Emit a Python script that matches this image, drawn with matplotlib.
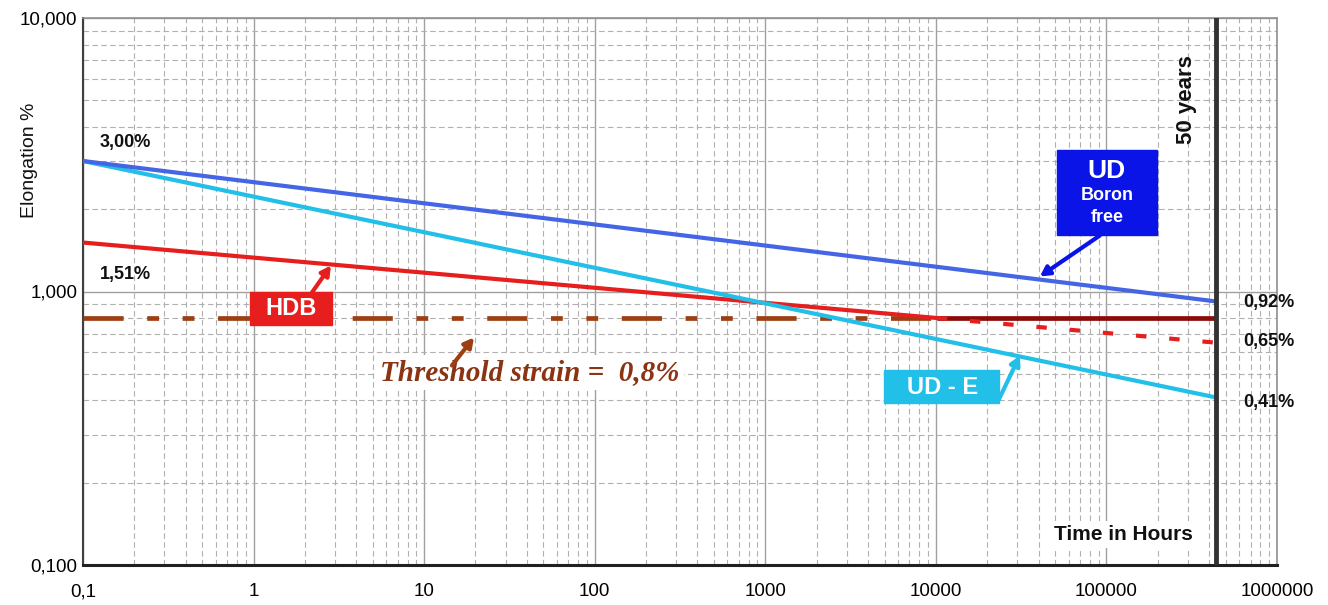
import numpy as np
import matplotlib
matplotlib.use("Agg")
import matplotlib.pyplot as plt
from matplotlib.ticker import FixedLocator, NullFormatter, LogLocator

plt.rcParams['font.family'] = ['Liberation Sans', 'DejaVu Sans']

# data (log-log straight lines)
t_range = [0.1, 438000]          # 0,1 h -> 50 years
ud_boron_free = [3.00, 0.92]
ud_e = [3.00, 0.41]
hdb = [1.51, 0.65]
threshold = 0.8
t_50_years = 438000

x_ticks = [0.1, 1, 10, 100, 1000, 10000, 100000, 1000000]
x_labels = ['0,1', '1', '10', '100', '1000', '10000', '100000', '1000000']
y_ticks = [0.1, 1, 10]
y_labels = ['0,100', '1,000', '10,000']

C_UDBF = '#4466e6'
C_UDBF_BOX = '#0a14e6'
C_UDE = '#22bfe8'
C_HDB = '#e61e1e'
C_THR = '#9c3f12'
C_THR_TXT = '#8a3414'
C_THR_END = '#8b0a0a'

fig = plt.figure(figsize=(13.28, 6.05), dpi=100)
ax = fig.add_axes([83 / 1328, 1 - 565 / 605, (1277 - 83) / 1328, (565 - 18) / 605])
ax.set_xscale('log')
ax.set_yscale('log')
ax.set_xlim(0.1, 1e6)
ax.set_ylim(0.1, 10)


def px(x, y):
    # reference pixel -> data coords (for placing annotations)
    return 10 ** ((x - 83) / 170.6 - 1), 10 ** ((292 - y) / 273.5)


# grid
ax.xaxis.set_minor_locator(LogLocator(base=10, subs=np.arange(2, 10)))
ax.yaxis.set_minor_locator(LogLocator(base=10, subs=np.arange(2, 10)))
ax.xaxis.set_minor_formatter(NullFormatter())
ax.yaxis.set_minor_formatter(NullFormatter())
ax.grid(True, which='major', color='#a0a0a0', lw=1.0, ls='-')
ax.grid(True, which='minor', color='#b0b0b0', lw=0.8, ls=(0, (5, 3)))
ax.set_axisbelow(True)

ax.xaxis.set_major_locator(FixedLocator(x_ticks))
ax.set_xticklabels(x_labels)
ax.yaxis.set_major_locator(FixedLocator(y_ticks))
ax.set_yticklabels(y_labels)
ax.tick_params(which='both', length=0, labelsize=13.5)
ax.tick_params(axis='x', pad=13)
ax.tick_params(axis='y', pad=4)

for s in ['top', 'right']:
    ax.spines[s].set_color('#909090')
    ax.spines[s].set_linewidth(1.2)
ax.spines['left'].set_color('#404040')
ax.spines['left'].set_linewidth(1.5)
ax.spines['bottom'].set_color('#202020')
ax.spines['bottom'].set_linewidth(2.2)

# crossing of HDB with threshold (straight in log-log)
lt = np.log10(t_range)
slope = (np.log10(hdb[1]) - np.log10(hdb[0])) / (lt[1] - lt[0])
t_cross = 10 ** (lt[0] + (np.log10(threshold) - np.log10(hdb[0])) / slope)

# threshold strain
ax.plot([t_range[0], t_cross], [threshold, threshold], color=C_THR, lw=3.4,
        dashes=(8.5, 5, 2.5, 5, 2.5, 5), zorder=3)
ax.plot([t_cross, t_range[1]], [threshold, threshold], color=C_THR_END, lw=3.4,
        solid_capstyle='butt', zorder=3)

# HDB: solid to threshold, then dashed
ax.plot([t_range[0], t_cross], [hdb[0], threshold], color=C_HDB, lw=3, zorder=4)
ax.plot([t_cross, t_range[1]], [threshold, hdb[1]], color=C_HDB, lw=3,
        dashes=(2.5, 5.5), zorder=4)

ax.plot(t_range, ud_e, color=C_UDE, lw=3, zorder=5)
ax.plot(t_range, ud_boron_free, color=C_UDBF, lw=3, zorder=5)

# 50 years line
ax.axvline(t_50_years, color='#333333', lw=3.5, zorder=6)

# value labels
lab = dict(fontsize=13, fontweight='bold', color='#111111', zorder=7)
ax.text(*px(100, 143), '3,00%', ha='left', va='center', **lab)
ax.text(*px(100, 275), '1,51%', ha='left', va='center', **lab)
ax.text(*px(1243, 303), '0,92%', ha='left', va='center', **lab)
ax.text(*px(1243, 342), '0,65%', ha='left', va='center', **lab)
ax.text(*px(1243, 403), '0,41%', ha='left', va='center', **lab)

head = '-|>,head_length=0.55,head_width=0.3'

# HDB box + arrow
x0, y0 = px(250, 325)
x1, y1 = px(332, 292)
ax.add_patch(plt.Rectangle((x0, y0), x1 - x0, y1 - y0, fc=C_HDB, ec=C_HDB, zorder=8))
ax.text(*px(291, 309), 'HDB', ha='center', va='center', fontsize=17, fontweight='bold',
        color='white', zorder=9)
ax.annotate('', xy=px(331, 266), xytext=px(312, 293),
            arrowprops=dict(arrowstyle=head, color=C_HDB, lw=3, shrinkA=0, shrinkB=0),
            zorder=8)

# UD - E box + arrow
x0, y0 = px(884, 403)
x1, y1 = px(999, 370)
ax.add_patch(plt.Rectangle((x0, y0), x1 - x0, y1 - y0, fc=C_UDE, ec=C_UDE, zorder=8))
ax.text(*px(943, 388), 'UD - E', ha='center', va='center', fontsize=17, fontweight='bold',
        color='white', zorder=9)
ax.annotate('', xy=px(1020, 356), xytext=px(999, 400),
            arrowprops=dict(arrowstyle=head, color=C_UDE, lw=3, shrinkA=0, shrinkB=0),
            zorder=8)

# UD Boron free box + arrow
x0, y0 = px(1057, 235)
x1, y1 = px(1157, 150)
ax.add_patch(plt.Rectangle((x0, y0), x1 - x0, y1 - y0, fc=C_UDBF_BOX, ec=C_UDBF_BOX, zorder=8))
ax.text(*px(1107, 171), 'UD', ha='center', va='center', fontsize=19, fontweight='bold',
        color='white', zorder=9)
ax.text(*px(1107, 196), 'Boron', ha='center', va='center', fontsize=13, fontweight='bold',
        color='white', zorder=9)
ax.text(*px(1107, 218), 'free', ha='center', va='center', fontsize=13, fontweight='bold',
        color='white', zorder=9)
ax.annotate('', xy=px(1040, 277), xytext=px(1100, 236),
            arrowprops=dict(arrowstyle=head, color=C_UDBF_BOX, lw=3, shrinkA=0, shrinkB=0),
            zorder=8)

# threshold label
ax.text(*px(530, 373), 'Threshold strain =  0,8%', ha='center', va='center', fontsize=21,
        fontweight='bold', fontstyle='italic', color=C_THR_TXT, family='Liberation Serif',
        zorder=8, bbox=dict(boxstyle='square,pad=0.15', fc='white', ec='none'))
ax.annotate('', xy=px(474, 338), xytext=px(452, 366),
            arrowprops=dict(arrowstyle=head, color=C_THR, lw=3, shrinkA=0, shrinkB=0),
            zorder=10)

ax.text(*px(1187, 100), '50 years', rotation=90, ha='center', va='center', fontsize=16,
        fontweight='bold', color='#111111', zorder=8)
ax.text(*px(1124, 535), 'Time in Hours', ha='center', va='center', fontsize=15,
        fontweight='bold', color='#111111', zorder=8,
        bbox=dict(boxstyle='square,pad=0.2', fc='white', ec='none'))

fig.text(30 / 1328, 1 - 160 / 605, 'Elongation %', rotation=90, ha='center', va='center',
         fontsize=14, color='#111111')

fig.savefig('out.png', dpi=100)
